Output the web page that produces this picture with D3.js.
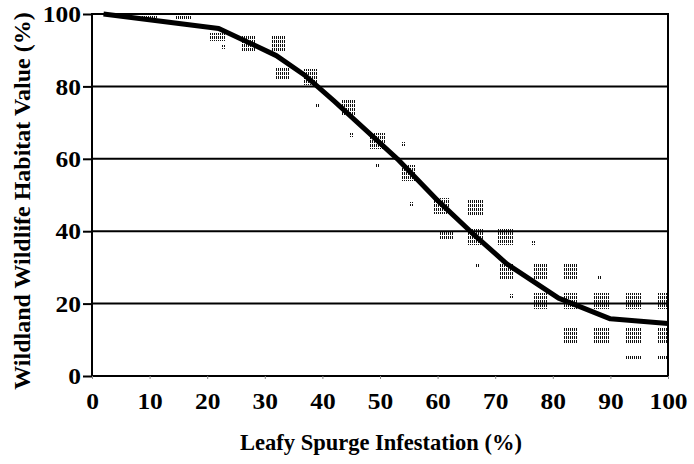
<!DOCTYPE html>
<html>
<head>
<meta charset="utf-8">
<script src="https://cdn.jsdelivr.net/npm/d3@7"></script>
<style>
  body { margin: 0; background: #fff; }
  svg text { font-family: "Liberation Serif", "Times New Roman", serif; font-weight: bold; fill: #000; }
</style>
</head>
<body>
<svg id="chart" width="694" height="464"></svg>
<script>
// fitted response curve (infestation %, habitat value %)
const curveX = [2, 22, 32, 37, 42, 53, 60, 66, 72, 81, 90, 100];
const curveY = [100, 96, 88.5, 83, 76, 60, 48.5, 39.5, 31, 21.5, 15.8, 14.5];

// stippled observation clusters: centre x, centre y, number of dot rows
const obsX = [10, 15.8, 21.7, 27.2, 32.4, 33, 38, 44.5, 49.5, 55, 60.7, 66.5, 66.5, 71.7, 72, 77.8, 83, 77.8, 83, 88.5, 94, 99.5, 83, 88.5, 94, 99.5, 94, 99.5, 61.5];
const obsY = [99.5, 99, 93.6, 92, 92, 83.4, 82.5, 74, 65, 56, 47, 46.5, 38.5, 38.5, 29, 29, 29, 20.7, 20.7, 20.7, 20.7, 20.7, 11.3, 11.3, 11.3, 11.3, 5, 5, 39];
const obsRows = [1, 1, 2, 4, 4, 3, 4, 4, 4, 4, 4, 4, 4, 4, 4, 4, 4, 4, 4, 4, 4, 4, 4, 4, 4, 4, 1, 1, 2];

// lone specks
const speckX = [23, 39, 45, 49.5, 54, 55.5, 67, 73, 76.5, 88];
const speckY = [91, 75, 66.5, 58, 64, 47.5, 30.5, 22, 36.7, 27];

const yTicks = [0, 20, 40, 60, 80, 100];
const xTicks = [0, 10, 20, 30, 40, 50, 60, 70, 80, 90, 100];

const svg = d3.select("#chart");
const x = d3.scaleLinear().domain([0, 100]).range([92, 668]);
const y = d3.scaleLinear().domain([0, 100]).range([376, 14]);
const stretch = 1.06;
const serif = "'Liberation Serif', 'Times New Roman', serif";

// dot pattern used for the stipple
const defs = svg.append("defs");
defs.append("pattern")
    .attr("id", "stip")
    .attr("width", 2).attr("height", 4)
    .attr("patternUnits", "userSpaceOnUse")
  .append("rect")
    .attr("width", 1).attr("height", 3)
    .attr("fill", "#111");

// grid lines
svg.append("g")
  .selectAll("line")
  .data([20, 40, 60, 80])
  .join("line")
    .attr("x1", x(0)).attr("x2", x(100))
    .attr("y1", d => y(d)).attr("y2", d => y(d))
    .attr("stroke", "#000").attr("stroke-width", 2);

// stipple clusters
const cw = x(2.6) - x(0);
svg.append("g")
  .selectAll("rect")
  .data(obsX.map((d, i) => ({x: d, y: obsY[i], n: obsRows[i]})))
  .join("rect")
    .attr("x", d => Math.round(x(d.x) - cw / 2))
    .attr("y", d => Math.round(y(d.y) - d.n * 2))
    .attr("width", d => Math.min(cw, x(100) - Math.round(x(d.x) - cw / 2)))
    .attr("height", d => d.n * 4)
    .attr("fill", "url(#stip)");

svg.append("g")
  .selectAll("rect")
  .data(speckX.map((d, i) => ({x: d, y: speckY[i]})))
  .join("rect")
    .attr("x", d => Math.round(x(d.x)) - 2)
    .attr("y", d => Math.round(y(d.y)) - 2)
    .attr("width", 4).attr("height", 4)
    .attr("fill", "url(#stip)");

// curve
const line = d3.line()
    .x(d => x(d[0]))
    .y(d => y(d[1]));
svg.append("path")
    .datum(curveX.map((d, i) => [d, curveY[i]]))
    .attr("d", line)
    .attr("fill", "none")
    .attr("stroke", "#000")
    .attr("stroke-width", 5)
    .attr("stroke-linejoin", "round");

// frame
svg.append("rect")
    .attr("x", x(0)).attr("y", y(100))
    .attr("width", x(100) - x(0)).attr("height", y(0) - y(100))
    .attr("fill", "none").attr("stroke", "#000").attr("stroke-width", 2);

// axes
const yAxis = svg.append("g")
    .attr("transform", `translate(${x(0)},0)`)
    .call(d3.axisLeft(y).tickValues(yTicks).tickSize(9).tickPadding(2));
const xAxis = svg.append("g")
    .attr("transform", `translate(0,${y(0)})`)
    .call(d3.axisBottom(x).tickValues(xTicks).tickSize(3).tickPadding(13));

svg.selectAll(".domain").remove();
yAxis.selectAll("line").attr("stroke", "#000").attr("stroke-width", 2);
xAxis.selectAll("line").attr("stroke", "#888").attr("stroke-width", 1);
yAxis.attr("font-family", serif);
xAxis.attr("font-family", serif);

svg.selectAll(".tick text")
    .style("font-size", "24px")
    .style("font-family", serif)
    .style("font-weight", "bold")
    .attr("fill", "#000")
    .each(function() {
      const w = this.getComputedTextLength();
      d3.select(this).attr("textLength", w * stretch).attr("lengthAdjust", "spacingAndGlyphs");
    });

// titles
svg.append("text")
    .attr("x", 381)
    .attr("y", 450)
    .attr("text-anchor", "middle")
    .style("font-family", serif)
    .style("font-size", "22.5px")
    .text("Leafy Spurge Infestation (%)");

svg.append("text")
    .attr("transform", `translate(30,${(y(0) + y(100)) / 2 + 6}) rotate(-90)`)
    .attr("text-anchor", "middle")
    .style("font-family", serif)
    .style("font-size", "24px")
    .text("Wildland Wildlife Habitat Value (%)");
</script>
</body>
</html>
